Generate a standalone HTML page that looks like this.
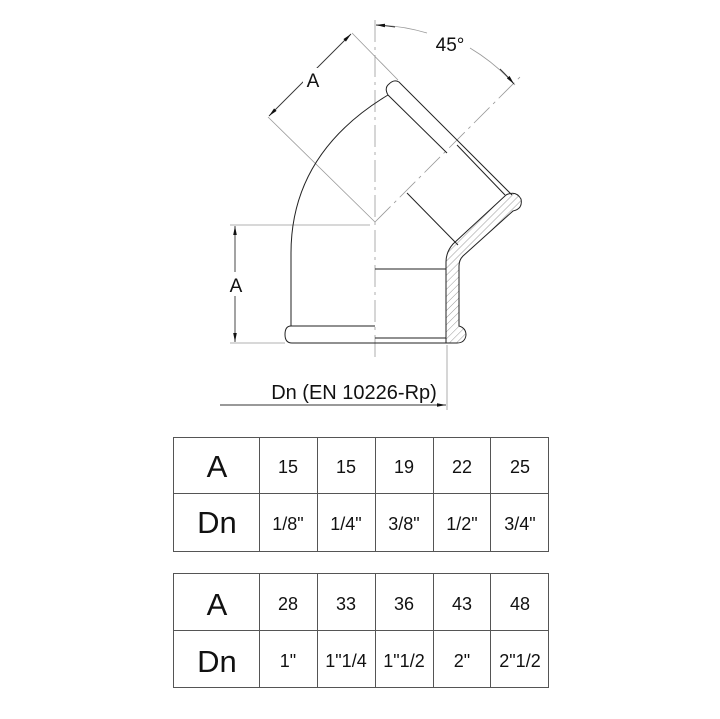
<!DOCTYPE html>
<html><head><meta charset="utf-8"><style>
html,body{margin:0;padding:0;background:#fff;}
svg{display:block;}
text{font-family:"Liberation Sans",Arial,sans-serif;fill:#111;}
</style></head><body>
<svg width="720" height="719" viewBox="0 0 720 719" xmlns="http://www.w3.org/2000/svg">
<defs>
<pattern id="h" width="5" height="5" patternUnits="userSpaceOnUse" patternTransform="rotate(45)">
<line x1="0" y1="0" x2="0" y2="5" stroke="#555" stroke-width="0.6"/>
</pattern>
<marker id="ar" viewBox="0 0 10 10" refX="10" refY="5" markerWidth="9" markerHeight="9" markerUnits="userSpaceOnUse" orient="auto-start-reverse"><path d="M0,3 L10,5 L0,7 Z" fill="#111"/></marker>
</defs>
<g fill="none" stroke="#999" stroke-width="0.8">
<line x1="375" y1="20" x2="375" y2="360" stroke-dasharray="22,5,3,5"/>
<line x1="375" y1="222" x2="520" y2="77" stroke-dasharray="22,5,3,5"/>
<line x1="268" y1="117" x2="375" y2="222"/>
<line x1="352" y1="33" x2="398" y2="80"/>
<line x1="230" y1="225" x2="370" y2="225"/>
<line x1="230" y1="343" x2="285" y2="343"/>
<line x1="447" y1="345" x2="447" y2="410"/>
<path d="M378,25 A197,197 0 0 1 427,33"/>
<path d="M470,48 A197,197 0 0 1 515,85"/>
</g>
<g stroke="#333" stroke-width="0.9" fill="none">
<line x1="235" y1="226" x2="235" y2="342" marker-start="url(#ar)" marker-end="url(#ar)"/>
<line x1="269" y1="116" x2="351" y2="34" marker-start="url(#ar)" marker-end="url(#ar)"/>
<line x1="220" y1="405" x2="446" y2="405" marker-end="url(#ar)"/>
<path d="M395,27 A197,197 0 0 0 376,25" marker-end="url(#ar)"/>
<path d="M500,69 A197,197 0 0 1 514,84" marker-end="url(#ar)"/>
</g>
<g stroke="#222" stroke-width="1" fill="none">
<path d="M291,326 L375,326"/>
<path d="M291,326 Q285,326 285,334.5 Q285,343 292,343 L457,343"/>
<line x1="375" y1="338" x2="446" y2="338"/>
<line x1="375" y1="269" x2="446" y2="269"/>
<path d="M291,326 L291,253 C291,180 330,130 388,95"/>
<path d="M388,95 Q384,88 389,84 Q394,79 399,82 L512,195"/>
<line x1="388" y1="95" x2="447" y2="153"/>
<line x1="457" y1="145" x2="505" y2="195"/>
<line x1="407" y1="193" x2="458" y2="245"/>
</g>
<path d="M446,343 L446,262 Q446,252 453,244 L506,195 Q516,190 521,199 Q523,209 513,211 L463,256 Q459,260 459,266 L459,326 Q466,328 466,335 Q465,343 457,343 Z" fill="url(#h)" stroke="#222" stroke-width="1"/>
<rect x="303" y="68" width="20" height="22" fill="#fff"/>
<rect x="226" y="272" width="20" height="24" fill="#fff"/>
<text x="313" y="87" font-size="19" text-anchor="middle">A</text>
<text x="236" y="292" font-size="19" text-anchor="middle">A</text>
<text x="450" y="51" font-size="19" text-anchor="middle">45°</text>
<text x="354" y="399" font-size="20" text-anchor="middle">Dn (EN 10226-Rp)</text>
<g stroke="#555" stroke-width="1" fill="none">
<rect x="173.5" y="437.5" width="375" height="114"/>
<line x1="173.5" y1="493.5" x2="548.5" y2="493.5"/>
<line x1="259.5" y1="437" x2="259.5" y2="552"/>
<line x1="317.5" y1="437" x2="317.5" y2="552"/>
<line x1="375.5" y1="437" x2="375.5" y2="552"/>
<line x1="433.5" y1="437" x2="433.5" y2="552"/>
<line x1="490.5" y1="437" x2="490.5" y2="552"/>
<rect x="173.5" y="573.5" width="375" height="114"/>
<line x1="173.5" y1="630.5" x2="548.5" y2="630.5"/>
<line x1="259.5" y1="573" x2="259.5" y2="688"/>
<line x1="317.5" y1="573" x2="317.5" y2="688"/>
<line x1="375.5" y1="573" x2="375.5" y2="688"/>
<line x1="433.5" y1="573" x2="433.5" y2="688"/>
<line x1="490.5" y1="573" x2="490.5" y2="688"/>
</g>
<g text-anchor="middle">
<text x="217" y="477" font-size="31">A</text>
<text x="217" y="533" font-size="31">Dn</text>
<text x="217" y="615" font-size="31">A</text>
<text x="217" y="672" font-size="31">Dn</text>
<g font-size="18">
<text x="288" y="473">15</text><text x="346" y="473">15</text><text x="404" y="473">19</text><text x="462" y="473">22</text><text x="520" y="473">25</text>
<text x="288" y="530">1/8"</text><text x="346" y="530">1/4"</text><text x="404" y="530">3/8"</text><text x="462" y="530">1/2"</text><text x="520" y="530">3/4"</text>
<text x="288" y="610">28</text><text x="346" y="610">33</text><text x="404" y="610">36</text><text x="462" y="610">43</text><text x="520" y="610">48</text>
<text x="288" y="667">1"</text><text x="346" y="667">1"1/4</text><text x="404" y="667">1"1/2</text><text x="462" y="667">2"</text><text x="520" y="667">2"1/2</text>
</g>
</g>
</svg>
</body></html>
